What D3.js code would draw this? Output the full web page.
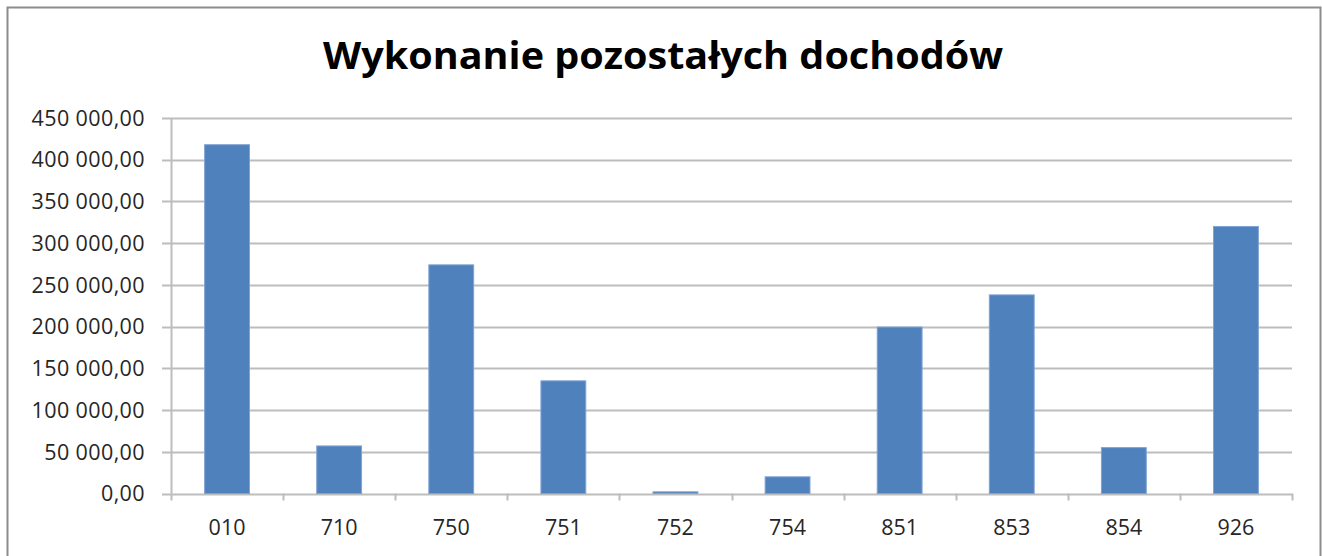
<!DOCTYPE html>
<html><head><meta charset="utf-8">
<script src="https://cdn.jsdelivr.net/npm/d3@7"></script>
<style>body{margin:0;background:#fff}svg{display:block}</style>
</head><body>
<svg id="c" width="1322" height="556"></svg>
<script>
const categories = ["010","710","750","751","752","754","851","853","854","926"];
const values = [418000, 57000, 274000, 135000, 2000, 20000, 199500, 238000, 55000, 320000];
const yTicks = [0,50000,100000,150000,200000,250000,300000,350000,400000,450000];
const title = "Wykonanie pozostałych dochodów";

const svg = d3.select("#c");
const m = {left:171, right:1292, top:118, bottom:493.5};
const font = "'Open Sans', sans-serif";

svg.append("rect").attr("x",7.5).attr("y",7.5).attr("width",1313).attr("height",560)
  .attr("fill","#fff").attr("stroke","#8c8c8c").attr("stroke-width",2);

const x = d3.scaleBand().domain(categories).range([m.left,m.right]).paddingInner(0.6).paddingOuter(0.3);
const y = d3.scaleLinear().domain([0,450000]).range([m.bottom,m.top]);

const fmt = v => d3.format(",.2f")(v).replace(/,/g," ").replace(".",",");

// gridlines
svg.append("g").selectAll("line").data(yTicks).join("line")
  .attr("x1",m.left-9).attr("x2",m.right)
  .attr("y1",d=>Math.round(y(d))+0.5).attr("y2",d=>Math.round(y(d))+0.5)
  .attr("stroke","#bdbdbd").attr("stroke-width",2);

// y axis line
svg.append("line").attr("x1",m.left+0.5).attr("x2",m.left+0.5).attr("y1",m.top).attr("y2",m.bottom)
  .attr("stroke","#bdbdbd").attr("stroke-width",2);

// y labels
svg.append("g").selectAll("text").data(yTicks).join("text")
  .attr("x",145).attr("y",d=>y(d)).attr("dy","0.36em").attr("text-anchor","end")
  .attr("font-family",font).attr("font-size",21.5).attr("letter-spacing","0.4px").attr("fill","#262626")
  .text(fmt);

// x axis ticks at category boundaries
const bounds = d3.range(categories.length+1).map(i=>m.left + i*(m.right-m.left)/categories.length);
svg.append("g").selectAll("line").data(bounds).join("line")
  .attr("x1",d=>Math.round(d)+0.5).attr("x2",d=>Math.round(d)+0.5)
  .attr("y1",m.bottom).attr("y2",m.bottom+7)
  .attr("stroke","#bdbdbd").attr("stroke-width",2);

// bars
svg.append("g").selectAll("rect").data(values).join("rect")
  .attr("x",(d,i)=>x(categories[i])).attr("width",x.bandwidth())
  .attr("y",d=>y(d)).attr("height",d=>m.bottom-y(d))
  .attr("fill","#4f81bd").attr("stroke","#7fa3d3").attr("stroke-width",1);

// x labels
svg.append("g").selectAll("text").data(categories).join("text")
  .attr("x",d=>x(d)+x.bandwidth()/2).attr("y",535)
  .attr("text-anchor","middle")
  .attr("font-family",font).attr("font-size",21.5).attr("fill","#262626")
  .text(d=>d);

// title
svg.append("text").attr("x",663).attr("y",69).attr("text-anchor","middle")
  .attr("font-family",font).attr("font-weight","bold").attr("font-size",37).attr("fill","#000")
  .attr("textLength",680).attr("lengthAdjust","spacingAndGlyphs")
  .text(title);
</script>
</body></html>
